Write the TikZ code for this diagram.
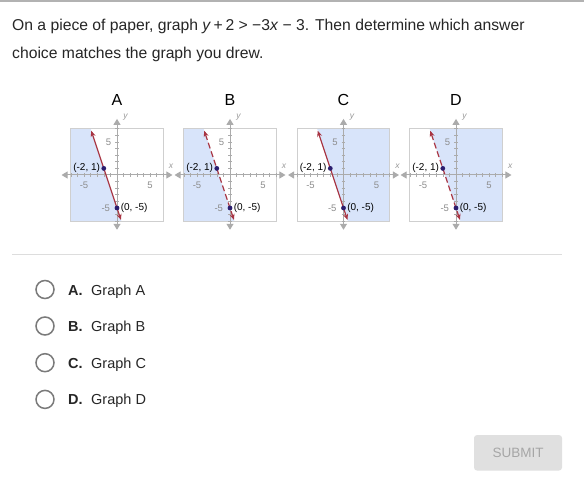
\documentclass[tikz,border=0pt]{standalone}
\usepackage{fontspec}
\setmainfont{Liberation Sans}
\usetikzlibrary{arrows.meta}
\definecolor{shadeblue}{HTML}{D8E4FA}
\definecolor{boxline}{HTML}{CFCFCF}
\definecolor{axis}{HTML}{ABABAB}
\definecolor{graphline}{HTML}{A83442}
\definecolor{pt}{HTML}{2B1D6E}
\definecolor{sep}{HTML}{DDDDDD}
\definecolor{radio}{HTML}{7A7A7A}
\definecolor{btn}{HTML}{E0E0E0}
\definecolor{btntext}{HTML}{A6A6A6}
\tikzset{
  qtext/.style={font=\fontsize{15.7}{19}\selectfont, anchor=base west, inner sep=0pt, text=black!85},
  choicetext/.style={font=\fontsize{14.5}{17}\selectfont, anchor=base west, inner sep=0pt, text=black!85},
  radiobtn/.style={circle, draw=radio, line width=1.5pt, minimum size=18pt, inner sep=0pt},
  panellabel/.style={font=\fontsize{16}{19}\selectfont, inner sep=0pt},
  gbox/.style={draw=boxline, line width=0.8pt},
  axisline/.style={draw=axis, line width=1pt, {Triangle[length=6pt,width=7pt]}-{Triangle[length=6pt,width=7pt]}},
  tick/.style={draw=axis, line width=0.6pt},
  ticklabel/.style={font=\fontsize{9.5}{11}\selectfont, text=black!45, inner sep=0pt},
  axlabel/.style={font=\itshape\fontsize{8.5}{10}\selectfont, text=black!40, inner sep=0pt},
  ptlabel/.style={font=\fontsize{10}{12}\selectfont, inner sep=0pt},
  dot/.style={circle, fill=pt, minimum size=4.8pt, inner sep=0pt},
  bline/.style={draw=graphline, line width=1.2pt, {Stealth[length=6pt,width=5pt]}-{Stealth[length=6pt,width=5pt]}},
}
\newcommand{\drawpanel}[4]{%
  % #1 origin x, #2 letter, #3 shade side (L/R), #4 line style extra
  \node[panellabel] (lab#2) at (#1,100) {#2};
  \begin{scope}[xshift=#1pt, yshift=-175pt, x=6.6pt, y=6.6pt]
    \node[gbox, minimum width=92.4pt, minimum height=92.4pt, inner sep=0pt, fill=white] (box#2) at (0,0) {};
    \ifx L#3
      \fill[shadeblue] (-7,7) -- (-4,7) -- (0.6667,-7) -- (-7,-7) -- cycle;
    \else
      \fill[shadeblue] (-4,7) -- (7,7) -- (7,-7) -- (0.6667,-7) -- cycle;
    \fi
    \draw[boxline, line width=0.8pt] (-7,-7) rectangle (7,7);
    \foreach \t in {-7,...,-1,1,2,...,7} {
      \draw[tick] (\t,-0.3) -- (\t,0.3);
      \draw[tick] (-0.3,\t) -- (0.3,\t);
    }
    \coordinate (xl#2) at (-8.4,0);
    \coordinate (xr#2) at (8.4,0);
    \coordinate (yb#2) at (0,-8.3);
    \coordinate (yt#2) at (0,8.5);
    \draw[axisline] (xl#2) -- (xr#2);
    \draw[axisline] (yb#2) -- (yt#2);
    \node[axlabel] (xlab#2) at (8.2,1.3) {x};
    \node[axlabel] (ylab#2) at (1.3,8.7) {y};
    \node[ticklabel] (t5y#2) at (-1.3,5) {5};
    \node[ticklabel] (tm5y#2) at (-1.7,-5) {-5};
    \node[ticklabel] (t5x#2) at (5,-1.5) {5};
    \node[ticklabel] (tm5x#2) at (-5,-1.5) {-5};
    \coordinate (la#2) at (-3.9,6.7);
    \coordinate (lb#2) at (0.6,-6.8);
    \draw[bline, #4] (la#2) -- (lb#2);
    \node[dot] (p1#2) at (-2,1) {};
    \node[dot] (p2#2) at (0,-5) {};
    \node[ptlabel, anchor=east] (p1l#2) at ([xshift=-1pt]p1#2.west) {(-2, 1)};
    \node[ptlabel, anchor=west] (p2l#2) at ([xshift=1pt]p2#2.east) {(0, -5)};
  \end{scope}
}
\begin{document}
\begin{tikzpicture}[x=1pt, y=-1pt]
\useasboundingbox (0,0) rectangle (584,484);
\fill[white] (0,0) rectangle (584,484);
\draw[black!30, line width=1.5pt] (0,1.2) -- (584,1.2);
\node[qtext] (q1) at (12,30.5) {On a piece of paper, graph \textit{y}\,+\,2 > −3\textit{x} − 3. Then determine which answer};
\node[qtext] (q2) at (12,58.5) {choice matches the graph you drew.};
\drawpanel{117}{A}{L}{}
\drawpanel{230}{B}{L}{dashed, dash pattern=on 6pt off 3pt}
\drawpanel{343.5}{C}{R}{}
\drawpanel{456}{D}{R}{dashed, dash pattern=on 6pt off 3pt}
\draw[sep, line width=1pt] (12,254.3) -- (562,254.3);
\foreach \l/\yy in {A/289.5, B/326, C/362.7, D/399.4} {
  \node[radiobtn] (r\l) at (45,\yy) {};
  \node[choicetext, font=\bfseries\fontsize{14.5}{17}\selectfont] (c\l) at (68,\yy+5.5) {\l.};
  \node[choicetext] (g\l) at (91,\yy+5.5) {Graph \l};
}
\node[fill=btn, rounded corners=3pt, minimum width=88pt, minimum height=35.5pt, inner sep=0pt] (submit) at (518,452.8) {};
\node[font=\fontsize{13.5}{16}\selectfont, text=btntext, inner sep=0pt] (submittext) at (submit.center) {SUBMIT};
\end{tikzpicture}
\end{document}
